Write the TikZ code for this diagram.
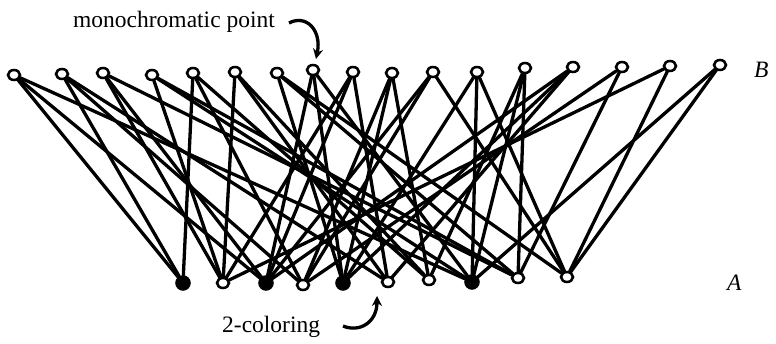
\documentclass[tikz,border=0pt]{standalone}
\usepackage{fontspec}
\setmainfont{Liberation Serif}
\usetikzlibrary{shapes.geometric,arrows.meta}
\tikzset{
  opn/.style={draw,ellipse,line width=2.5pt,minimum width=12pt,minimum height=10pt,inner sep=0pt,fill=white},
  fil/.style={draw,circle,fill=black,line width=1pt,minimum size=14.5pt,inner sep=0pt},
  edge/.style={line width=3.3pt,line cap=round},
  lbl/.style={font=\fontsize{23.5}{26}\selectfont,inner sep=0pt},
  pointer/.style={line width=3.3pt,-{Stealth[length=10pt,width=10pt]}}
}
\begin{document}
\begin{tikzpicture}[x=1pt,y=-1pt]
\useasboundingbox (0,0) rectangle (776,344);
% B row
\node[opn] (b1) at (14,75) {};
\node[opn] (b2) at (62,74) {};
\node[opn] (b3) at (103,73) {};
\node[opn] (b4) at (152,75) {};
\node[opn] (b5) at (193,73) {};
\node[opn] (b6) at (235,72) {};
\node[opn] (b7) at (277,73) {};
\node[opn] (b8) at (313,70) {};
\node[opn] (b9) at (353,72) {};
\node[opn] (b10) at (392,73) {};
\node[opn] (b11) at (433,72) {};
\node[opn] (b12) at (477,72) {};
\node[opn] (b13) at (525,68) {};
\node[opn] (b14) at (573,67) {};
\node[opn] (b15) at (622,67) {};
\node[opn] (b16) at (670,66) {};
\node[opn] (b17) at (720,65) {};
% A row
\node[fil] (a1) at (183,283) {};
\node[opn] (a2) at (223,283) {};
\node[fil] (a3) at (266,283) {};
\node[opn] (a4) at (303,285) {};
\node[fil] (a5) at (343,283) {};
\node[opn] (a6) at (388,282) {};
\node[opn] (a7) at (429,280) {};
\node[fil] (a8) at (472,282) {};
\node[opn] (a9) at (518,278) {};
\node[opn] (a10) at (567,277) {};
% edges
\foreach \b/\a in {b1/a1,b1/a3,b1/a8,
  b2/a1,b2/a4,b2/a6,
  b3/a2,b3/a3,b3/a9,
  b4/a2,b4/a8,b4/a9,
  b5/a1,b5/a4,b5/a7,
  b6/a2,b6/a6,b6/a7,
  b7/a9,b7/a10,b7/a5,
  b8/a3,b8/a5,b8/a8,
  b9/a2,b9/a6,b9/a3,
  b10/a4,b10/a5,b10/a7,
  b11/a4,b11/a10,b11/a3,
  b12/a5,b12/a8,b12/a10,
  b13/a9,b13/a8,b13/a7,
  b14/a6,b14/a5,b14/a3,
  b15/a9,b15/a4,
  b16/a2,b16/a10,
  b17/a8,b17/a10}
  \draw[edge] (\b) -- (\a);
% labels
\node[lbl,anchor=base west] (mono) at (73,28) {monochromatic point};
\node[lbl,anchor=base west] (col) at (222,333) {2-coloring};
\node[lbl,anchor=base west] (labB) at (754,78) {\itshape B};
\node[lbl,anchor=base west] (labA) at (727,291) {\itshape A};
\coordinate (m1) at (289,23);
\coordinate (m2) at (316,59);
\coordinate (c1) at (343,326);
\coordinate (c2) at (377,296);
\draw[pointer] (m1) .. controls (306,14) and (322,30) .. (m2);
\draw[pointer] (c1) .. controls (360,333) and (377,322) .. (c2);
\end{tikzpicture}
\end{document}
